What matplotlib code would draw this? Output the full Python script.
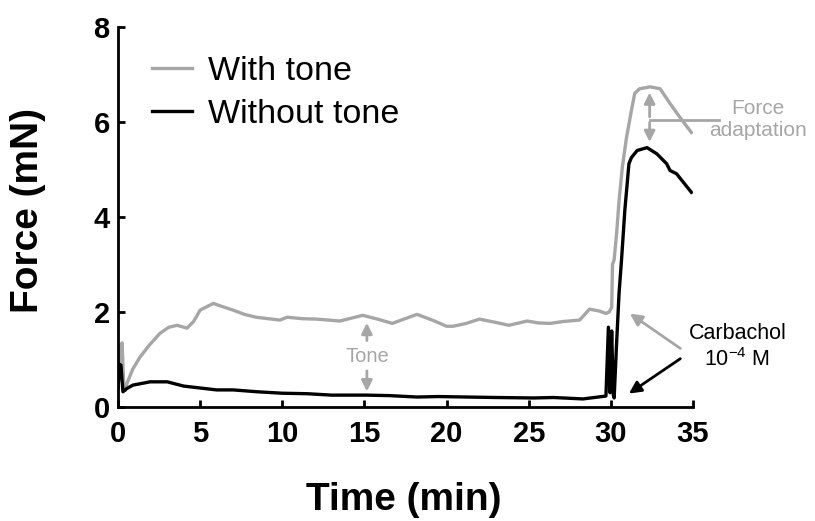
import matplotlib
matplotlib.use("Agg")
import matplotlib.pyplot as plt

plt.rcParams['font.family'] = ['Liberation Sans', 'DejaVu Sans']
plt.rcParams['mathtext.fontset'] = 'custom'
plt.rcParams['mathtext.rm'] = 'Liberation Sans'
plt.rcParams['mathtext.it'] = 'Liberation Sans'
plt.rcParams['mathtext.bf'] = 'Liberation Sans:bold'

# ---- data ----
t_tone = [0, 0.15, 0.25, 0.35, 0.45, 0.55, 0.9, 1.34, 1.9, 2.55, 3.1, 3.6, 4.2, 4.6,
          5.0, 5.8, 6.3, 7.0, 7.7, 8.4, 9.85, 10.3, 11.2, 12.1, 13.5, 14.9, 15.8,
          16.7, 17.4, 18.2, 19.2, 20.0, 20.4, 21.2, 22.0, 23.0, 23.8, 24.9, 25.6,
          26.3, 27.1, 28.1, 28.7, 29.3, 29.7, 29.9, 30.05, 30.1, 30.2, 30.35, 30.5,
          30.7, 30.95, 31.1, 31.25, 31.45, 31.75, 32.4, 33.0, 33.6, 34.2, 34.9]
f_tone = [0.4, 1.3, 1.35, 0.45, 0.35, 0.5, 0.8, 1.05, 1.3, 1.55, 1.68, 1.72, 1.66, 1.8,
          2.04, 2.18, 2.12, 2.04, 1.95, 1.89, 1.83, 1.89, 1.86, 1.85, 1.81, 1.93, 1.85,
          1.76, 1.85, 1.95, 1.82, 1.70, 1.70, 1.76, 1.85, 1.78, 1.72, 1.81, 1.77,
          1.76, 1.80, 1.83, 2.06, 2.02, 1.97, 2.0, 2.1, 3.0, 3.1, 3.65, 4.35,
          5.05, 5.67, 5.95, 6.24, 6.6, 6.7, 6.74, 6.7, 6.39, 6.1, 5.78]

t_notone = [0, 0.1, 0.18, 0.3, 0.5, 0.9, 1.95, 3.0, 4.0, 5.0, 6.0, 7.0, 8.5, 10.0,
            11.5, 13.0, 15.1, 16.5, 18.2, 19.5, 21.2, 23.0, 25.3, 26.5, 28.3, 29.7,
            29.85, 29.95, 30.05, 30.15, 30.2, 30.35, 30.5, 30.65, 30.85, 31.1, 31.25,
            31.6, 32.2, 32.8, 33.4, 33.6, 34.0, 34.9]
f_notone = [0.4, 0.9, 0.88, 0.32, 0.38, 0.46, 0.53, 0.53, 0.44, 0.4, 0.36, 0.36, 0.32, 0.29,
            0.28, 0.25, 0.25, 0.24, 0.21, 0.22, 0.21, 0.2, 0.19, 0.2, 0.17, 0.23,
            1.68, 0.3, 1.6, 0.25, 0.19, 1.35, 2.4, 3.1, 4.14, 5.12, 5.25,
            5.4, 5.46, 5.33, 5.12, 4.98, 4.91, 4.52]

series_labels = ["With tone", "Without tone"]
x_ticks = [0, 5, 10, 15, 20, 25, 30, 35]
y_ticks = [0, 2, 4, 6, 8]

GRAY = "#a6a6a6"

fig = plt.figure(figsize=(8.15, 5.21), dpi=100)
ax = fig.add_axes([118/815, 1-407/521, 575/815, 380/521])

ax.plot(t_tone, f_tone, color=GRAY, lw=2.4, label=series_labels[0], solid_joinstyle='round')
ax.plot(t_notone, f_notone, color="black", lw=2.4, label=series_labels[1], solid_joinstyle='round')

ax.set_xlim(0, 35)
ax.set_ylim(0, 8)
ax.set_xticks(x_ticks)
ax.set_yticks(y_ticks)
for s in ['top', 'right']:
    ax.spines[s].set_visible(False)
for s in ['left', 'bottom']:
    ax.spines[s].set_linewidth(2)
ax.tick_params(direction='in', length=5, width=2, labelsize=21)
ax.tick_params(axis='x', pad=9)
ax.tick_params(axis='y', pad=6)
for lab in ax.get_xticklabels() + ax.get_yticklabels():
    lab.set_fontweight('bold')

ax.set_xlabel("Time (min)", fontsize=28, fontweight='bold')
ax.set_ylabel("Force (mN)", fontsize=28, fontweight='bold')
ax.xaxis.set_label_coords(0.497, -0.245)
ax.xaxis.label.set_va('center')
ax.yaxis.set_label_coords(-0.156, 0.516)
ax.yaxis.label.set_va('center')

leg = ax.legend(loc='upper left', bbox_to_anchor=(0.059, 0.925), frameon=False,
                fontsize=24.5, handlelength=1.18, handletextpad=0.47,
                labelspacing=0.36, borderpad=0, borderaxespad=0)
for line in leg.get_lines():
    line.set_linewidth(2.4)

# Tone annotation
arrow_kw = dict(arrowstyle='-|>', color=GRAY, lw=2, mutation_scale=16)
ax.annotate("", xy=(15.15, 1.83), xytext=(15.15, 1.34), arrowprops=arrow_kw)
ax.annotate("", xy=(15.15, 0.27), xytext=(15.15, 0.82), arrowprops=arrow_kw)
ax.text(15.15, 1.07, "Tone", color=GRAY, fontsize=14.5, ha='center', va='center')

# Force adaptation annotation
ax.annotate("", xy=(32.36, 6.68), xytext=(32.36, 6.05), arrowprops=arrow_kw, annotation_clip=False)
ax.annotate("", xy=(32.36, 5.52), xytext=(32.36, 6.05), arrowprops=arrow_kw, annotation_clip=False)
ax.plot([32.36, 36.6], [6.05, 6.05], color=GRAY, lw=2, clip_on=False)
ax.text(38.95, 6.05, "Force\nadaptation", color=GRAY, fontsize=15, ha='center', va='center',
        linespacing=1.15)

# Carbachol annotation
ax.annotate("", xy=(31.02, 2.0), xytext=(34.37, 1.2),
            arrowprops=dict(arrowstyle='-|>', color=GRAY, lw=2, mutation_scale=18),
            annotation_clip=False)
ax.annotate("", xy=(30.96, 0.25), xytext=(34.37, 1.05),
            arrowprops=dict(arrowstyle='-|>', color='black', lw=2, mutation_scale=18),
            annotation_clip=False)
ax.text(37.7, 1.55, "Carbachol", color='black', fontsize=15.5, ha='center', va='center')
ax.text(37.7, 0.99, r"10$^{\mathrm{-4}}$ M", color='black', fontsize=15.5, ha='center', va='center')

fig.savefig("out.png", dpi=100)
